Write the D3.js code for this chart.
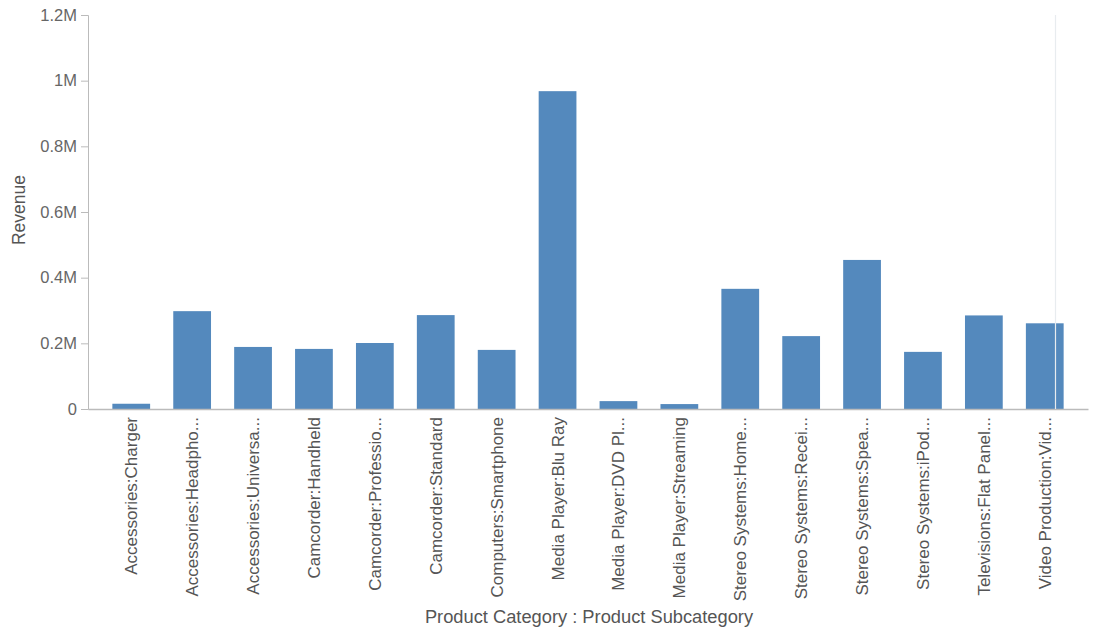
<!DOCTYPE html>
<html><head><meta charset="utf-8">
<script src="https://cdn.jsdelivr.net/npm/d3@7"></script>
<style>
body{margin:0;background:#fff;}
svg{display:block;font-family:"Liberation Sans",Arial,sans-serif;}
</style></head>
<body>
<svg id="chart" width="1095" height="629"></svg>
<script>
const categories = [
  "Accessories:Charger","Accessories:Headpho...","Accessories:Universa...","Camcorder:Handheld",
  "Camcorder:Professio...","Camcorder:Standard","Computers:Smartphone","Media Player:Blu Ray",
  "Media Player:DVD Pl...","Media Player:Streaming","Stereo Systems:Home...","Stereo Systems:Recei...",
  "Stereo Systems:Spea...","Stereo Systems:iPod...","Televisions:Flat Panel...","Video Production:Vid..."
];
const revenue = [16000,298000,189000,183000,201000,286000,180000,968000,24000,15000,366000,222000,454000,174000,285000,261000];
const yTicks = [0,200000,400000,600000,800000,1000000,1200000];
const yTickLabels = ["0","0.2M","0.4M","0.6M","0.8M","1M","1.2M"];

const svg = d3.select("#chart");
const mLeft = 88, mRight = 1088, mTop = 15, mBottom = 409;

const x = d3.scaleBand().domain(categories).range([mLeft, mRight]).paddingInner(0.38).paddingOuter(0.4);
const y = d3.scaleLinear().domain([0, 1200000]).range([mBottom, mTop]);

// y axis
const yAxis = svg.append("g").attr("transform", `translate(${mLeft},0)`)
  .call(d3.axisLeft(y).tickValues(yTicks).tickFormat((d,i)=>yTickLabels[i]).tickSize(7).tickPadding(4));
yAxis.select(".domain").attr("stroke","#bbb");
yAxis.selectAll(".tick line").attr("stroke","#bbb");
yAxis.selectAll("text").attr("fill","#666").style("font-size","16.5px");

// bars
svg.append("g").selectAll("rect").data(revenue).join("rect")
  .attr("x",(d,i)=>x(categories[i]))
  .attr("y",d=>y(d))
  .attr("width",x.bandwidth())
  .attr("height",d=>mBottom - y(d))
  .attr("fill","#5489bd");

// x axis
const xAxis = svg.append("g").attr("transform", `translate(0,${mBottom})`)
  .call(d3.axisBottom(x).tickSize(0).tickPadding(8));
xAxis.select(".domain").attr("stroke","#bbb").attr("stroke-width",1.5);
xAxis.selectAll("text")
  .attr("fill","#555").style("font-size","17px")
  .attr("text-anchor","end")
  .attr("transform","rotate(-90)")
  .attr("x",-8).attr("y",0).attr("dy","0.35em");

// cursor line
const lastCat = categories[categories.length-1];
const cx = Math.round(x(lastCat) + x.bandwidth()*0.78) + 0.5;
svg.append("line").attr("x1",cx).attr("x2",cx).attr("y1",mTop).attr("y2",mBottom)
  .attr("stroke","#e8ecef").attr("stroke-width",1.2);

// axis titles
svg.append("text").attr("x",589).attr("y",623).attr("text-anchor","middle")
  .attr("fill","#555").style("font-size","18.3px").text("Product Category : Product Subcategory");
svg.append("text").attr("transform","translate(25,210) rotate(-90)").attr("text-anchor","middle")
  .attr("fill","#555").style("font-size","17.5px").text("Revenue");
</script>
</body></html>
